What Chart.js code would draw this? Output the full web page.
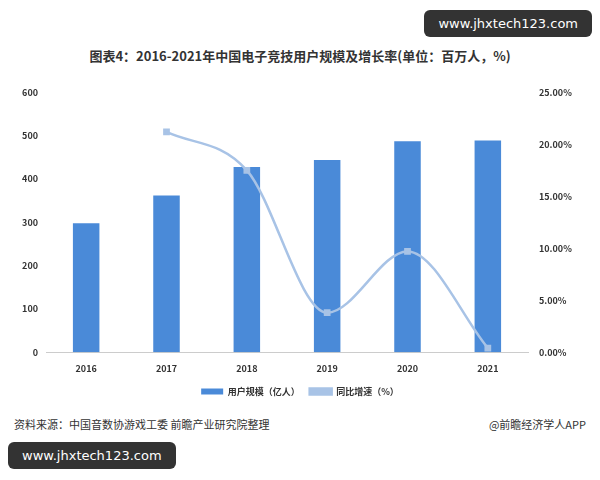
<!DOCTYPE html>
<html><head><meta charset="utf-8">
<script src="https://cdn.jsdelivr.net/npm/chart.js@4"></script>
<style>
  body { margin: 0; background: #fff; font-family: "Noto Sans CJK SC", sans-serif; }
  #wrap { position: relative; width: 600px; height: 480px; }
  #title { position: absolute; top: 46px; width: 600px; text-align: center; font-size: 13px; font-weight: bold; color: #333; }
  #box { position: absolute; left: 0; top: 84px; width: 600px; height: 322px; }
  .src { position: absolute; top: 416px; font-size: 11px; color: #333; }
  .wm { position: absolute; background: #333; color: #fff; font-size: 13px; padding: 6px 14px; border-radius: 6px; font-family: "DejaVu Sans", sans-serif; }
</style></head>
<body><div id="wrap">
  <div class="wm" style="right:8px;top:10px;">www.jhxtech123.com</div>
  <div id="title">图表4：2016-2021年中国电子竞技用户规模及增长率(单位：百万人，%)</div>
  <div id="box"><canvas id="c"></canvas></div>
  <div class="src" style="left:14px;">资料来源：中国音数协游戏工委 前瞻产业研究院整理</div>
  <div class="src" style="right:14px;">@前瞻经济学人APP</div>
  <div class="wm" style="left:8px;top:442px;">www.jhxtech123.com</div>
</div>
<script>
  // data
  const years = ['2016', '2017', '2018', '2019', '2020', '2021'];
  const users = [298, 362, 428, 444, 487, 489];
  const growth = [null, 21.2, 17.5, 3.8, 9.7, 0.4];
  const leftTicks = [0, 100, 200, 300, 400, 500, 600];

  const tickFont = { size: 9, weight: 'bold', family: 'Noto Sans CJK SC' };

  new Chart(document.getElementById('c'), {
    data: {
      labels: years,
      datasets: [
        {
          type: 'bar', label: '用户规模（亿人）', data: users, yAxisID: 'y',
          backgroundColor: '#4a8ad8', barPercentage: 0.33, categoryPercentage: 1, order: 2
        },
        {
          type: 'line', label: '同比增速（%）', data: growth, yAxisID: 'y1',
          borderColor: '#a8c3e6', backgroundColor: '#a8c3e6', borderWidth: 2.5,
          pointStyle: 'rect', pointRadius: 3, tension: 0.4, cubicInterpolationMode: 'monotone', order: 1
        }
      ]
    },
    options: {
      responsive: true, maintainAspectRatio: false, animation: false,
      layout: { padding: { left: 10, right: 10, top: 6 } },
      plugins: {
        legend: {
          position: 'bottom',
          labels: {
            font: tickFont, color: '#333', boxWidth: 22, boxHeight: 6,
            sort: (a, b) => a.datasetIndex - b.datasetIndex
          }
        },
        tooltip: { enabled: false }
      },
      scales: {
        x: {
          grid: { display: false },
          border: { color: '#ccc' },
          ticks: { font: tickFont, color: '#333' }
        },
        y: {
          position: 'left', min: 0, max: 600,
          afterBuildTicks(ax) { ax.ticks = leftTicks.map(v => ({ value: v })); },
          afterFit(ax) { ax.width = 36; },
          grid: { display: false }, border: { display: false },
          ticks: { font: tickFont, color: '#333', crossAlign: 'near', padding: 0 }
        },
        y1: {
          position: 'right', min: 0, max: 25,
          afterFit(ax) { ax.width = 62; },
          grid: { display: false }, border: { display: false },
          ticks: { stepSize: 5, font: tickFont, color: '#333', callback: v => v.toFixed(2) + '%' }
        }
      }
    }
  });
</script>
</body></html>
